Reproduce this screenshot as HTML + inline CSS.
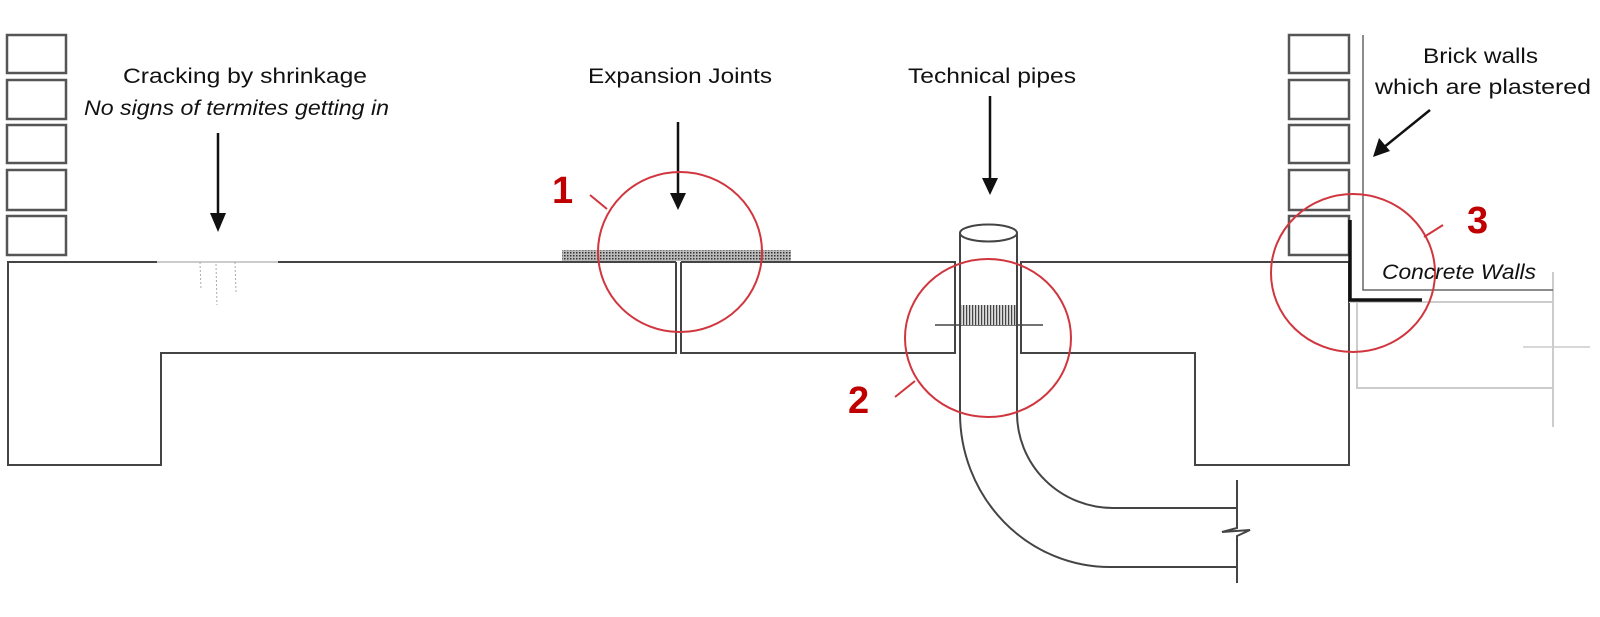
<!DOCTYPE html>
<html><head><meta charset="utf-8"><style>
html,body{margin:0;padding:0;background:#fff;}
svg{display:block;}
text{font-family:"Liberation Sans",sans-serif;fill:#111;}
</style></head><body>
<svg width="1600" height="617" viewBox="0 0 1600 617" xmlns="http://www.w3.org/2000/svg">
<defs>
<pattern id="hat" width="3" height="3" patternUnits="userSpaceOnUse"><rect width="3" height="3" fill="#bbb"/><rect width="1.5" height="1.5" fill="#333"/></pattern>
<pattern id="vh" width="3" height="20" patternUnits="userSpaceOnUse"><rect width="3" height="20" fill="#ddd"/><rect width="1.2" height="20" fill="#444"/></pattern>
</defs>
<g fill="none" stroke="#555" stroke-width="2.5">
<!-- left bricks -->
<rect x="7" y="35" width="59" height="38"/><rect x="7" y="80" width="59" height="39"/><rect x="7" y="125" width="59" height="38"/><rect x="7" y="170" width="59" height="40"/><rect x="7" y="216" width="59" height="39"/>
<!-- right bricks -->
<rect x="1289" y="35" width="60" height="38"/><rect x="1289" y="80" width="60" height="39"/><rect x="1289" y="125" width="60" height="38"/><rect x="1289" y="170" width="60" height="40"/><rect x="1289" y="216" width="60" height="39"/>
</g>
<g fill="none" stroke="#444" stroke-width="2">
<!-- slab outline -->
<path d="M157 262 L8 262 L8 465 L161 465 L161 353 L676 353 L676 262"/>
<path d="M278 262 L676 262"/>
<path d="M681 262 L681 353 L955 353 L955 262 L681 262"/>
<path d="M1021 262 L1349 262 L1349 465 L1195 465 L1195 353 L1021 353 Z"/>
<!-- pipe -->
<ellipse cx="988.5" cy="233" rx="28.5" ry="8.5" fill="#fff"/>
<path d="M960 233 L960 413 A150 154 0 0 0 1110 567 L1237 567"/>
<path d="M1017 233 L1017 413 A96 95 0 0 0 1113 508 L1237 508"/>
<path d="M1237 480 L1237 528 L1222 532 L1250 530 L1237 536 L1237 583"/>
<line x1="935" y1="325" x2="1043" y2="325" stroke-width="1.5"/>
</g>
<line x1="157" y1="262" x2="278" y2="262" stroke="#999" stroke-width="1"/>
<g stroke="#aaa" stroke-width="1" stroke-dasharray="2 2"><line x1="200" y1="262" x2="201" y2="290"/><line x1="216" y1="264" x2="217" y2="305"/><line x1="235" y1="262" x2="236" y2="293"/></g>
<rect x="562" y="250" width="229" height="11" fill="url(#hat)"/>
<rect x="961" y="305" width="55" height="20" fill="url(#vh)"/>
<!-- right concrete walls -->
<g fill="none" stroke="#ccc" stroke-width="2">
<path d="M1349 302 L1553 302"/><path d="M1357 302 L1357 388 L1553 388"/><path d="M1553 272 L1553 427"/><path d="M1523 347 L1590 347" stroke-width="1.5"/>
</g>
<path d="M1363 35 L1363 290 L1553 290" fill="none" stroke="#666" stroke-width="1.5"/>
<path d="M1350 220 L1350 300 L1422 300" fill="none" stroke="#111" stroke-width="3.5"/>
<!-- arrows -->
<g stroke="#111" stroke-width="2.5">
<line x1="218" y1="133" x2="218" y2="220"/><line x1="678" y1="122" x2="678" y2="198"/><line x1="990" y1="96" x2="990" y2="183"/><line x1="1430" y1="110" x2="1383" y2="148"/>
</g>
<g fill="#111">
<polygon points="210,213 226,213 218,232"/><polygon points="670,193 686,193 678,210"/><polygon points="982,178 998,178 990,195"/><polygon points="1373,157 1379,138 1390,151"/>
</g>
<!-- circles -->
<g fill="none" stroke="#d0363e" stroke-width="2">
<ellipse cx="680" cy="252" rx="82" ry="80"/><ellipse cx="988" cy="338" rx="83" ry="79"/><ellipse cx="1353" cy="273" rx="82" ry="79"/>
<line x1="590" y1="195" x2="607" y2="209"/><line x1="895" y1="397" x2="915" y2="381"/><line x1="1424" y1="237" x2="1443" y2="225"/>
</g>
<g style="font-weight:bold;font-size:38px;fill:#c00000">
<text x="552" y="203" style="fill:#c00000">1</text><text x="848" y="413" style="fill:#c00000">2</text><text x="1467" y="233" style="fill:#c00000">3</text>
</g>
<g style="font-size:21px">
<text x="123" y="83" textLength="244" lengthAdjust="spacingAndGlyphs">Cracking by shrinkage</text>
<text x="84" y="115" textLength="305" lengthAdjust="spacingAndGlyphs" font-style="italic">No signs of termites getting in</text>
<text x="588" y="83" textLength="184" lengthAdjust="spacingAndGlyphs">Expansion Joints</text>
<text x="908" y="83" textLength="168" lengthAdjust="spacingAndGlyphs">Technical pipes</text>
<text x="1423" y="63" textLength="115" lengthAdjust="spacingAndGlyphs">Brick walls</text>
<text x="1375" y="94" textLength="216" lengthAdjust="spacingAndGlyphs">which are plastered</text>
<text x="1382" y="279" textLength="154" lengthAdjust="spacingAndGlyphs" font-style="italic">Concrete Walls</text>
</g>
</svg>
</body></html>
